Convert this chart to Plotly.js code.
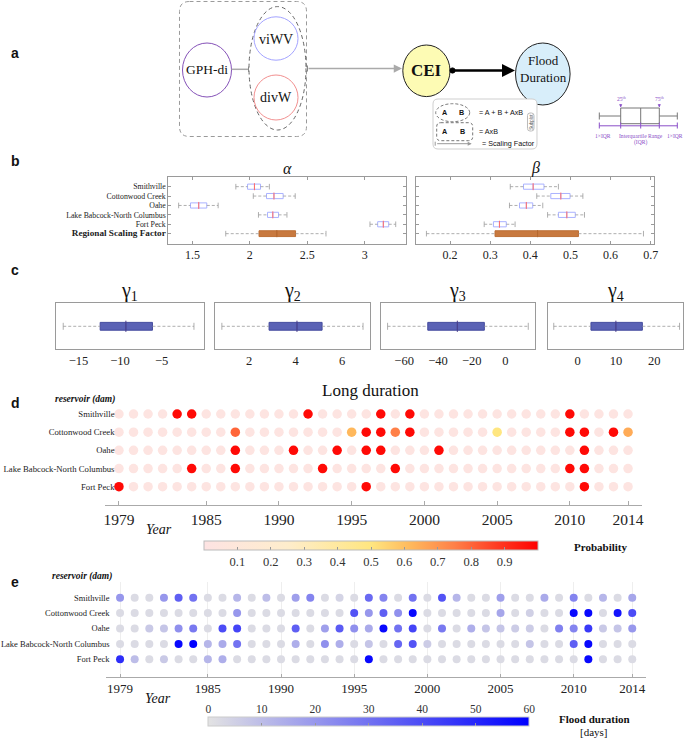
<!DOCTYPE html>
<html><head><meta charset="utf-8">
<script src="https://cdn.plot.ly/plotly-3.0.1.min.js"></script>
<style>html,body{margin:0;padding:0;background:#fff}#chart{width:685px;height:738px}</style>
</head><body><div id="chart"></div>
<script>
// ---------------- DATA ----------------
const years = [1979,1980,1981,1982,1983,1984,1985,1986,1987,1988,1989,1990,1991,1992,1993,1994,1995,1996,1997,1998,1999,2000,2001,2002,2003,2004,2005,2006,2007,2008,2009,2010,2011,2012,2013,2014];
const yearTicks = [1979,1985,1990,1995,2000,2005,2010,2014];
const reservoirs = ['Smithville','Cottonwood Creek','Oahe','Lake Babcock-North Columbus','Fort Peck'];
const regionalLabel = 'Regional Scaling Factor';

// panel b: alpha (low whisker, q1, median, q3, high whisker) per reservoir
const alphaLow  = [1.878, 2.03, 1.38, 2.075, 3.046];
const alphaQ1   = [1.98, 2.145, 1.483, 2.154, 3.113];
const alphaMed  = [2.04, 2.21, 1.555, 2.20, 3.162];
const alphaQ3   = [2.093, 2.29, 1.625, 2.25, 3.209];
const alphaHigh = [2.17, 2.395, 1.724, 2.323, 3.27];
const alphaRegional = [1.79, 2.08, 2.235, 2.398, 2.663];
const alphaTicks = [1.5, 2, 2.5, 3];
// panel b: beta
const betaLow  = [0.35, 0.416, 0.348, 0.443, 0.285];
const betaQ1   = [0.383, 0.451, 0.373, 0.47, 0.308];
const betaMed  = [0.407, 0.476, 0.39, 0.491, 0.323];
const betaQ3   = [0.434, 0.499, 0.406, 0.512, 0.34];
const betaHigh = [0.47, 0.531, 0.431, 0.535, 0.362];
const betaRegional = [0.141, 0.312, 0.418, 0.52, 0.682];
const betaTicks = [0.2, 0.3, 0.4, 0.5, 0.6, 0.7];
// panel c: gammas (low, q1, median, q3, high)
const gamma1 = [-16.85, -12.4, -9.3, -6.1, -1.1];
const gamma2 = [0.83, 2.86, 4.06, 5.14, 6.9];
const gamma3 = [-69.8, -46, -28.5, -12.5, 13.5];
const gamma4 = [-6.2, 3.5, 10, 16.9, 26.6];
const gamma1Ticks = [-15, -10, -5];
const gamma2Ticks = [2, 4, 6];
const gamma3Ticks = [-60, -40, -20, 0];
const gamma4Ticks = [0, 10, 20];

// panel d: probability of long duration
const probSmithville = [0.02,0.02,0.02,0.02,0.98,0.98,0.02,0.02,0.02,0.02, 0.02,0.02,0.02,0.98,0.02,0.02,0.02,0.02,0.98,0.02, 0.98,0.02,0.02,0.02,0.02,0.02,0.02,0.02,0.02,0.02, 0.02,0.98,0.02,0.02,0.02,0.02];
const probCottonwood = [0.02,0.02,0.02,0.02,0.02,0.02,0.02,0.02,0.80,0.02, 0.02,0.02,0.02,0.02,0.02,0.02,0.62,0.98,0.98,0.75, 0.98,0.02,0.02,0.02,0.02,0.02,0.50,0.02,0.02,0.02, 0.02,0.98,0.98,0.02,0.98,0.65];
const probOahe       = [0.02,0.02,0.02,0.02,0.02,0.02,0.02,0.02,0.98,0.02, 0.02,0.02,0.98,0.02,0.02,0.98,0.02,0.98,0.98,0.02, 0.02,0.02,0.98,0.02,0.02,0.02,0.02,0.02,0.02,0.02, 0.02,0.02,0.98,0.02,0.02,0.02];
const probBabcock    = [0.02,0.02,0.02,0.02,0.02,0.98,0.02,0.02,0.98,0.02, 0.02,0.02,0.02,0.02,0.98,0.02,0.02,0.02,0.02,0.98, 0.02,0.02,0.02,0.02,0.02,0.02,0.02,0.02,0.02,0.02, 0.02,0.98,0.98,0.02,0.02,0.02];
const probFortPeck   = [0.98,0.02,0.02,0.02,0.02,0.02,0.02,0.02,0.02,0.02, 0.02,0.02,0.02,0.02,0.02,0.02,0.02,0.98,0.02,0.02, 0.02,0.02,0.02,0.02,0.02,0.02,0.02,0.02,0.02,0.02, 0.02,0.02,0.98,0.02,0.02,0.02];
const probTicks = [0.1,0.2,0.3,0.4,0.5,0.6,0.7,0.8,0.9];

// panel e: flood duration [days]
const daysSmithville = [20,2,2,20,35,30,2,2,12,2, 10,2,18,25,2,4,2,32,25,2, 30,2,38,12,2,2,18,2,2,15, 2,25,2,12,2,16];
const daysCottonwood = [2,2,2,2,2,2,2,2,20,2, 2,2,2,2,2,2,38,20,35,22, 58,2,2,2,2,2,16,2,5,2, 2,58,58,2,55,40];
const daysOahe       = [2,2,7,8,22,28,2,40,42,2, 2,2,35,2,18,36,22,15,58,30, 42,2,28,2,14,8,8,6,6,2, 26,25,45,7,8,20];
const daysBabcock    = [2,2,2,2,58,60,12,15,30,2, 2,2,14,2,22,14,2,8,2,33, 38,6,2,2,2,2,2,2,8,2, 2,35,58,2,2,2];
const daysFortPeck   = [48,10,2,7,2,2,12,14,2,2, 2,2,2,2,2,2,2,58,2,2, 2,2,2,2,2,2,2,2,2,2, 2,2,58,2,2,2];
const daysTicks = [0,10,20,30,40,50,60];

// ---------------- HELPERS ----------------
const W = 685, H = 738;
const fx = p => p / W;
const fy = p => 1 - p / H;
const SERIF = 'Liberation Serif, Times New Roman, serif';
const SANS = 'Liberation Sans, Arial, sans-serif';
const traces = [];

function boxGroup(xa, ya, names, low, q1, med, q3, high, st) {
  const wx = [], wy = [];
  names.forEach((n, i) => { wx.push(low[i], q1[i], null, q3[i], high[i], null); wy.push(n, n, null, n, n, null); });
  traces.push({type:'scatter', mode:'lines', x:wx, y:wy, xaxis:xa, yaxis:ya, line:{color:'#9a9a9a', width:0.8, dash:'3px,2px'}, hoverinfo:'skip', showlegend:false});
  traces.push({type:'scatter', mode:'markers', x:low.concat(high), y:names.concat(names), xaxis:xa, yaxis:ya,
    marker:{symbol:'line-ns', size:st.cap, line:{width:0.8, color:'#9a9a9a'}}, hoverinfo:'skip', showlegend:false});
  traces.push({type:'box', orientation:'h', y:names, q1:q1, median:med, q3:q3, lowerfence:q1, upperfence:q3,
    xaxis:xa, yaxis:ya, width:st.width, whiskerwidth:0, boxpoints:false, fillcolor:st.fill,
    line:{color:st.line, width:1}, hoverinfo:'skip', showlegend:false});
  if (st.median) {
    traces.push({type:'scatter', mode:'markers', x:med, y:names, xaxis:xa, yaxis:ya,
      marker:{symbol:'line-ns', size:st.medSize, line:{width:1, color:st.median}}, hoverinfo:'skip', showlegend:false});
  }
}

// panel b
const siteStyle = {fill:'white', line:'#aab2ff', width:0.55, cap:4, median:'#ff6a6a', medSize:5};
const regStyle = {fill:'#c8793f', line:'#bd6f36', width:0.62, cap:4, median:'#b5682f', medSize:5};
boxGroup('x','y', reservoirs, alphaLow, alphaQ1, alphaMed, alphaQ3, alphaHigh, siteStyle);
boxGroup('x','y', [regionalLabel], [alphaRegional[0]], [alphaRegional[1]], [alphaRegional[2]], [alphaRegional[3]], [alphaRegional[4]], regStyle);
boxGroup('x2','y2', reservoirs, betaLow, betaQ1, betaMed, betaQ3, betaHigh, siteStyle);
boxGroup('x2','y2', [regionalLabel], [betaRegional[0]], [betaRegional[1]], [betaRegional[2]], [betaRegional[3]], [betaRegional[4]], regStyle);

// panel c
const gStyle = {fill:'#5a62b5', line:'#434a9e', width:0.34, cap:5, median:'#4a3f8a', medSize:8};
[gamma1, gamma2, gamma3, gamma4].forEach((g, k) => {
  boxGroup('x'+(k+3), 'y'+(k+3), ['g'], [g[0]], [g[1]], [g[2]], [g[3]], [g[4]], gStyle);
});

// panel d
const probRows = [probSmithville, probCottonwood, probOahe, probBabcock, probFortPeck];
probRows.forEach((vals, i) => {
  traces.push({type:'scatter', mode:'markers', x:years, y:years.map(() => reservoirs[i]), xaxis:'x7', yaxis:'y7',
    marker:{size:9.5, color:vals, coloraxis:'coloraxis'}, hoverinfo:'skip', showlegend:false});
});
// panel e
const dayRows = [daysSmithville, daysCottonwood, daysOahe, daysBabcock, daysFortPeck];
dayRows.forEach((vals, i) => {
  traces.push({type:'scatter', mode:'markers', x:years, y:years.map(() => reservoirs[i]), xaxis:'x8', yaxis:'y8',
    marker:{size:8, color:vals, coloraxis:'coloraxis2'}, hoverinfo:'skip', showlegend:false});
});
// axis for colorbar (e) labels
traces.push({type:'scatter', mode:'markers', x:[], y:[], xaxis:'x9', yaxis:'y9', hoverinfo:'skip', showlegend:false});

// ---------------- LAYOUT ----------------
const tickFontB = {family:SERIF, size:12, color:'#222'};
function frameX(dom, range, ticks, font) {
  return {domain:dom, range:range, tickvals:ticks, showline:true, mirror:'ticks', linecolor:'#9a9a9a', linewidth:1,
    ticks:'inside', ticklen:3, tickcolor:'#9a9a9a', showgrid:false, zeroline:false, tickfont:font, fixedrange:true};
}
const catB = [regionalLabel, 'Fort Peck', 'Lake Babcock-North Columbus', 'Oahe', 'Cottonwood Creek', 'Smithville'];
const catB_text = catB.map(c => c === regionalLabel ? '<b><span style="font-size:9.2px">' + c + '</span></b>' : c);
const yB = {domain:[fy(244), fy(176.7)], type:'category', categoryorder:'array', categoryarray:catB, range:[-1.1, 6.06],
  showline:true, mirror:'ticks', linecolor:'#9a9a9a', ticks:'inside', ticklen:3, tickcolor:'#9a9a9a', showgrid:false, zeroline:false,
  tickmode:'array', tickvals:catB, ticktext:catB_text, tickfont:{family:SERIF, size:7.8, color:'#222'}, fixedrange:true};

const gDomains = [[55.5,204],[215,370],[380.5,535],[548,683]];
const gRanges = [[-17.78,0.11],[0.535,7.2],[-74,17.5],[-7.7,27.5]];
const gTicks = [gamma1Ticks, gamma2Ticks, gamma3Ticks, gamma4Ticks];

const catD = reservoirs.slice().reverse();

const layout = {
  width:W, height:H, margin:{l:0,r:0,t:0,b:0}, paper_bgcolor:'white', plot_bgcolor:'rgba(0,0,0,0)',
  showlegend:false, hovermode:false, font:{family:SERIF, color:'#111'},
  xaxis: Object.assign(frameX([fx(168.3), fx(405.7)], [1.29, 3.357], alphaTicks, tickFontB), {anchor:'y'}),
  yaxis: Object.assign({}, yB, {anchor:'x'}),
  xaxis2: Object.assign(frameX([fx(416), fx(654.3)], [0.115, 0.709], betaTicks, tickFontB), {anchor:'y2'}),
  yaxis2: Object.assign({}, yB, {anchor:'x2', showticklabels:false}),
  xaxis7: {domain:[fx(105), fx(641.7)], range:[1978.04, 2014.94], anchor:'y7', tickvals:yearTicks, showline:true, linecolor:'#aaa',
    ticks:'inside', ticklen:4, tickcolor:'#aaa', showgrid:false, zeroline:false, tickfont:{family:SERIF, size:15.5, color:'#222'}, fixedrange:true},
  yaxis7: {domain:[fy(505), fy(400)], anchor:'free', position:fx(114.5), type:'category', categoryorder:'array', categoryarray:catD,
    range:[-1.007, 4.77], showline:false, ticks:'', showgrid:false, zeroline:false, tickfont:{family:SERIF, size:8.7, color:'#222'}, fixedrange:true},
  xaxis8: {domain:[fx(106), fx(646)], range:[1978.04, 2014.94], anchor:'y8', tickvals:yearTicks, showline:true, linecolor:'#aaa',
    ticks:'inside', ticklen:3, tickcolor:'#aaa', showgrid:true, gridcolor:'#eeeeee', zeroline:false, tickfont:{family:SERIF, size:13, color:'#222'}, fixedrange:true},
  yaxis8: {domain:[fy(676.7), fy(582)], anchor:'free', position:fx(109.5), type:'category', categoryorder:'array', categoryarray:catD,
    range:[-1.13, 5.02], showline:false, ticks:'', showgrid:false, zeroline:false, tickfont:{family:SERIF, size:8.5, color:'#222'}, fixedrange:true},
  xaxis9: {domain:[fx(208.3), fx(529.3)], range:[0,60], anchor:'y9', side:'top', tickvals:daysTicks, showline:false, showgrid:false,
    zeroline:false, ticks:'', tickfont:{family:SERIF, size:11.5, color:'#333'}, fixedrange:true},
  yaxis9: {domain:[fy(725.3), fy(716.7)], anchor:'x9', visible:false, range:[0,1], fixedrange:true},
  coloraxis: {cmin:0, cmax:1,
    colorscale:[[0,'#fde3e3'],[0.25,'#feedcc'],[0.5,'#ffe680'],[0.62,'#ffb85c'],[0.75,'#ff8048'],[0.88,'#ff3a22'],[1,'#ff0000']],
    colorbar:{orientation:'h', x:fx(371), xanchor:'center', y:fy(541), yanchor:'top', len:334, lenmode:'pixels', thickness:8.5, thicknessmode:'pixels',
      xpad:0, ypad:0, outlinewidth:1, outlinecolor:'#bbb', tickmode:'array', tickvals:probTicks, ticks:'inside', ticklen:3, tickcolor:'#999',
      tickfont:{family:SERIF, size:12.5, color:'#333'}}},
  coloraxis2: {cmin:0, cmax:60, colorscale:[[0,'#e3e3e3'],[1,'#0000ff']],
    colorbar:{orientation:'h', x:fx(368.8), xanchor:'center', y:fy(716.7), yanchor:'top', len:321, lenmode:'pixels', thickness:8.6, thicknessmode:'pixels',
      xpad:0, ypad:0, outlinewidth:1, outlinecolor:'#ccc', tickmode:'array', tickvals:[10,20,30,40,50], ticks:'inside', ticklen:3, tickcolor:'#999',
      showticklabels:false}},
  shapes:[], annotations:[]
};
gDomains.forEach((d, k) => {
  const n = k + 3;
  layout['xaxis'+n] = Object.assign(frameX([fx(d[0]), fx(d[1])], gRanges[k], gTicks[k], {family:SERIF, size:12.5, color:'#222'}),
    {anchor:'y'+n, ticks:'', mirror:true});
  layout['yaxis'+n] = {domain:[fy(349.3), fy(303.3)], anchor:'x'+n, type:'category', range:[-1,1], showline:true, mirror:true,
    linecolor:'#9a9a9a', ticks:'', showticklabels:false, showgrid:false, zeroline:false, fixedrange:true};
});

// ---------------- SHAPES & TEXT ----------------
const S = layout.shapes, A = layout.annotations;
function ell(cx, cy, rx, ry, line, fill) {
  S.push({type:'circle', xref:'paper', yref:'paper', x0:fx(cx-rx), x1:fx(cx+rx), y0:fy(cy+ry), y1:fy(cy-ry), line:line, fillcolor:fill||'rgba(0,0,0,0)', layer:'above'});
}
function ln(x0, y0, x1, y1, line) {
  S.push({type:'line', xref:'paper', yref:'paper', x0:fx(x0), x1:fx(x1), y0:fy(y0), y1:fy(y1), line:line, layer:'above'});
}
function rect(x0, y0, x1, y1, line, fill) {
  S.push({type:'rect', xref:'paper', yref:'paper', x0:fx(x0), x1:fx(x1), y0:fy(y1), y1:fy(y0), line:line, fillcolor:fill||'rgba(0,0,0,0)', layer:'above'});
}
function rr(x0, y0, x1, y1, r, line, fill) {
  const P = (x, y) => fx(x).toFixed(5) + ',' + fy(y).toFixed(5);
  const path = 'M' + P(x0+r,y0) + ' L' + P(x1-r,y0) + ' Q' + P(x1,y0) + ' ' + P(x1,y0+r) + ' L' + P(x1,y1-r) + ' Q' + P(x1,y1) + ' ' + P(x1-r,y1) +
    ' L' + P(x0+r,y1) + ' Q' + P(x0,y1) + ' ' + P(x0,y1-r) + ' L' + P(x0,y0+r) + ' Q' + P(x0,y0) + ' ' + P(x0+r,y0) + ' Z';
  S.push({type:'path', xref:'paper', yref:'paper', path:path, line:line, fillcolor:fill||'rgba(0,0,0,0)', layer:'above'});
}
function txt(x, y, text, font, opts) {
  A.push(Object.assign({xref:'paper', yref:'paper', x:fx(x), y:fy(y), text:text, showarrow:false, xanchor:'center', yanchor:'middle', font:font}, opts||{}));
}
function arrow(x, y, ax, ay, color, width, size) {
  A.push({xref:'paper', yref:'paper', x:fx(x), y:fy(y), ax:ax, ay:ay, text:'', showarrow:true, arrowhead:2, arrowsize:size, arrowwidth:width, arrowcolor:color});
}

// panel a diagram
rr(179.5, 1.5, 306.5, 136.5, 10, {color:'#9a9a9a', width:1, dash:'4px,3px'});
ell(207, 70, 24.5, 27, {color:'#8552b8', width:1});
ell(277.5, 68.3, 28.5, 61.7, {color:'#666', width:1, dash:'4px,3px'});
ell(276, 38.5, 22, 21.7, {color:'#a3a3ff', width:1});
ell(276, 97.5, 22, 22.5, {color:'#f29090', width:1});
ln(231.5, 69.3, 249, 69.3, {color:'#aaa', width:1.5});
ln(248.5, 66.5, 248.5, 72, {color:'#888', width:1});
ln(307.5, 65.5, 307.5, 71.5, {color:'#888', width:1});
arrow(402, 68.5, -95, 0, '#aaa', 1.5, 1.1);
ell(426.4, 70.8, 23.6, 25.8, {color:'#222', width:1}, '#fdfbb4');
arrow(515, 70.5, -63, 0, '#000', 2.6, 1);
ell(452.5, 70.5, 2.6, 2.6, {color:'#000', width:1}, '#000');
ell(542.8, 74, 27.3, 31, {color:'#222', width:1}, '#d8eefa');
txt(206.6, 69.3, 'GPH-di', {family:SERIF, size:13.5, color:'#111'});
txt(276, 39, 'viWV', {family:SERIF, size:14, color:'#111'});
txt(276, 98, 'divW', {family:SERIF, size:14, color:'#111'});
txt(426.4, 70.5, '<b>CEI</b>', {family:SERIF, size:17, color:'#111'});
txt(543, 69, 'Flood<br>Duration', {family:SERIF, size:13, color:'#111'});

// legend box
rr(433, 99, 537, 149, 5, {color:'#cfcfcf', width:1}, 'white');
ell(452.7, 112.7, 17, 9, {color:'#777', width:1, dash:'3px,2px'});
rr(436.7, 122.7, 472.7, 140.7, 4, {color:'#777', width:1, dash:'3px,2px'});
const legF = {family:SANS, size:7.2, color:'#111'};
txt(444, 112.9, '<b>A</b>', legF); txt(461.7, 112.9, '<b>B</b>', legF);
txt(444, 131.9, '<b>A</b>', legF); txt(462, 131.9, '<b>B</b>', legF);
txt(476.7, 112.9, '= A + B + AxB', legF, {xanchor:'left'});
txt(476.7, 131.4, '= AxB', legF, {xanchor:'left'});
txt(480, 143.9, '= Scaling Factor', legF, {xanchor:'left'});
arrow(471.7, 143.7, -36, 0, '#999', 1, 0.8);
ln(435.2, 141.7, 435.2, 145.7, {color:'#999', width:1});
rr(527.5, 113, 534, 131, 2.5, {color:'#bbb', width:1}, 'white');
txt(530.8, 122, 'Subplot', {family:SANS, size:4.5, color:'#555'}, {textangle:-90});

// box-plot schematic
const pur = '#8a4fc8';
ln(599.3, 116, 620.7, 116, {color:'#777', width:1});
ln(659.3, 116, 677.3, 116, {color:'#777', width:1});
ln(599.3, 112.5, 599.3, 119.5, {color:'#777', width:1});
ln(677.3, 112.5, 677.3, 119.5, {color:'#777', width:1});
rect(620.7, 108, 659.3, 123.7, {color:'#777', width:1});
ln(640.7, 108, 640.7, 123.7, {color:'#777', width:1});
ln(599.3, 125.8, 677.3, 125.8, {color:pur, width:1});
[599.3, 620.7, 640.7, 659.3, 677.3].forEach(x => ln(x, 122.5, x, 128.5, {color:pur, width:1}));
arrow(620.7, 107.5, 0, -5, pur, 0.8, 0.8);
arrow(659.3, 107.5, 0, -5, pur, 0.8, 0.8);
const purF = {family:SERIF, size:5.6, color:pur};
txt(621.5, 99, '25<sup>th</sup>', purF);
txt(659.5, 99, '75<sup>th</sup>', purF);
txt(603, 135.5, '1×IQR', purF);
txt(640.7, 135.5, 'Interquartile Range', purF);
txt(640.7, 142, '(IQR)', purF);
txt(674.5, 135.5, '1×IQR', purF);

// panel labels
const labF = {family:SANS, size:14, color:'#111'};
txt(15, 53, '<b>a</b>', labF); txt(15, 161, '<b>b</b>', labF); txt(15, 270, '<b>c</b>', labF);
txt(15, 403, '<b>d</b>', labF); txt(15, 582, '<b>e</b>', labF);

// panel b titles
txt(287, 168, '<i>α</i>', {family:SERIF, size:16, color:'#111'});
txt(535, 168, '<i>β</i>', {family:SERIF, size:16, color:'#111'});
// panel c titles
['γ<sub>1</sub>','γ<sub>2</sub>','γ<sub>3</sub>','γ<sub>4</sub>'].forEach((t, k) => {
  txt((gDomains[k][0]+gDomains[k][1])/2, 292, t, {family:SERIF, size:20, color:'#111'});
});
// panel d/e texts
txt(370, 390.5, 'Long duration', {family:SERIF, size:17, color:'#111'});
txt(85, 399, '<b><i>reservoir (dam)</i></b>', {family:SERIF, size:9.5, color:'#111'});
txt(82, 576.5, '<b><i>reservoir (dam)</i></b>', {family:SERIF, size:9.5, color:'#111'});
txt(159, 529, '<i>Year</i>', {family:SERIF, size:14, color:'#111'});
txt(158, 698, '<i>Year</i>', {family:SERIF, size:14, color:'#111'});
txt(600, 546.7, '<b>Probability</b>', {family:SERIF, size:11, color:'#111'});
txt(594, 718.7, '<b>Flood duration</b>', {family:SERIF, size:11, color:'#111'});
txt(594, 732, '[days]', {family:SERIF, size:11, color:'#111'});

Plotly.newPlot('chart', traces, layout, {staticPlot:true, displayModeBar:false});
</script>
</body></html>
